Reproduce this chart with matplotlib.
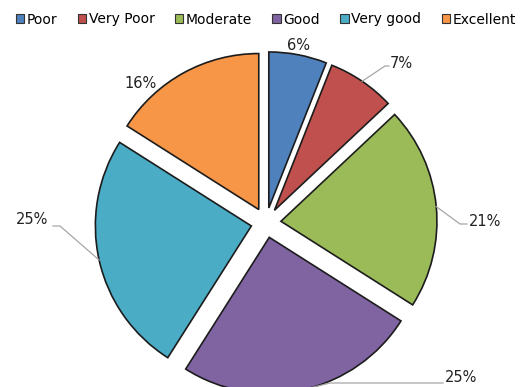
import numpy as np
import matplotlib
matplotlib.use("Agg")
import matplotlib.pyplot as plt
from matplotlib.patches import Patch

categories = ["Poor", "Very Poor", "Moderate", "Good", "Very good", "Excellent"]
shares = [6, 7, 21, 25, 25, 16]
colors = ["#4F81BD", "#C0504D", "#9BBB59", "#8064A2", "#4BACC6", "#F79646"]

W, H = 532, 387
fig = plt.figure(figsize=(W / 100, H / 100), dpi=100)
ax = fig.add_axes([0, 0, 1, 1])

# work in pixel units, y measured upward
cx, cy = 266, H - 222.7
radius = 156
gap = 15

wedges, _ = ax.pie(shares, colors=colors, startangle=90, counterclock=False,
                   center=(cx, cy), radius=radius, explode=[gap] * len(shares),
                   wedgeprops=dict(edgecolor="#1c1c1c", linewidth=1.2))
ax.set_xlim(0, W)
ax.set_ylim(0, H)
ax.set_aspect("equal")
ax.axis("off")

# label text positions (pixels from top-left) and optional leader elbow
label_pos = [(298, 45), (401, 64), (485, 221), (461, 377), (32, 219), (141, 83)]
elbows = [None, (385, 66), (460, 224), (330, 383), (60, 226), None]
line_end = [None, (389, 66), (467, 224), (443, 383), (53, 226), None]

total = sum(shares)
cum = np.cumsum([0] + shares) / total
for i, s in enumerate(shares):
    mid = np.deg2rad(90 - 360 * (cum[i] + cum[i + 1]) / 2)
    ox = cx + gap * np.cos(mid)
    oy = cy + gap * np.sin(mid)
    ax_pt = (ox + radius * np.cos(mid), oy + radius * np.sin(mid))
    tx, ty = label_pos[i]
    ax.text(tx, H - ty, f"{s}%", ha="center", va="center",
            fontsize=10.5, color="#222222")
    if elbows[i] is not None:
        ex, ey = elbows[i]
        lx, ly = line_end[i]
        ax.plot([ax_pt[0], ex, lx], [ax_pt[1], H - ey, H - ly],
                color="#a6a6a6", lw=0.9, clip_on=True)

handles = [Patch(facecolor=c, edgecolor="#333333", linewidth=0.8) for c in colors]
fig.legend(handles, categories, loc="upper center", bbox_to_anchor=(0.5, 1.0),
           ncol=6, frameon=False, fontsize=10, handlelength=0.6,
           handleheight=0.6, handletextpad=0.2, columnspacing=1.45)

fig.savefig("out.png", dpi=100)
